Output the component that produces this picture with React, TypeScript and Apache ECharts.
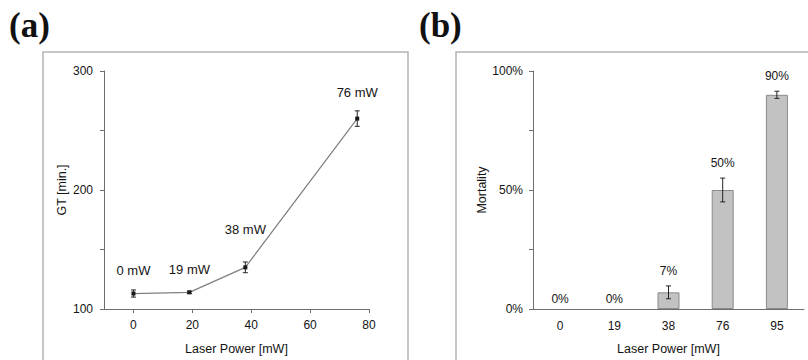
import React, { useEffect, useRef } from "react";
import * as echarts from "echarts";

// Panel (a): germination time vs laser power
const powerA = [0, 19, 38, 76];
const gtValues = [113, 114, 135, 260];
const gtErrors = [3, 1, 4.5, 6.5];
const gtLabels = ["0 mW", "19 mW", "38 mW", "76 mW"];
const xTicksA = [0, 20, 40, 60, 80];

// Panel (b): mortality vs laser power
const powerB = ["0", "19", "38", "76", "95"];
const mortality = [0, 0, 7, 50, 90];
const mortalityErr = [0, 0, 2.7, 5, 1.5];

const FONT = "Liberation Sans, Arial, sans-serif";
const TXT = "#141414";
const AX = "#6e6e6e";

export default function App() {
  const ref = useRef<HTMLDivElement>(null);
  useEffect(() => {
    if (!ref.current) return;
    const chart = echarts.init(ref.current, undefined, { renderer: "svg" });
    const labelLift = [15, 14, 29, 18];

    const errRender = (params: any, api: any) => {
      const x = api.value(0);
      const lo = api.value(1);
      const hi = api.value(2);
      const p1 = api.coord([x, lo]);
      const p2 = api.coord([x, hi]);
      const cap = 2.5;
      const st = { stroke: "#222", lineWidth: 1 };
      if (Math.abs(p1[1] - p2[1]) < 1) return { type: "group", children: [] };
      return {
        type: "group",
        children: [
          { type: "line", shape: { x1: p1[0], y1: p1[1], x2: p2[0], y2: p2[1] }, style: st },
          { type: "line", shape: { x1: p1[0] - cap, y1: p1[1], x2: p1[0] + cap, y2: p1[1] }, style: st },
          { type: "line", shape: { x1: p2[0] - cap, y1: p2[1], x2: p2[0] + cap, y2: p2[1] }, style: st },
        ],
      };
    };

    const errRenderB = (params: any, api: any) => {
      const x = api.value(0);
      const lo = api.value(1);
      const hi = api.value(2);
      const p1 = api.coord([x, lo]);
      const p2 = api.coord([x, hi]);
      const cap = 2.5;
      const st = { stroke: "#222", lineWidth: 1 };
      const children: any[] = [];
      const hasBar = Math.abs(p1[1] - p2[1]) >= 1;
      if (hasBar) {
        children.push(
          { type: "line", shape: { x1: p1[0], y1: p1[1], x2: p2[0], y2: p2[1] }, style: st },
          { type: "line", shape: { x1: p1[0] - cap, y1: p1[1], x2: p1[0] + cap, y2: p1[1] }, style: st },
          { type: "line", shape: { x1: p2[0] - cap, y1: p2[1], x2: p2[0] + cap, y2: p2[1] }, style: st }
        );
      }
      children.push({
        type: "text",
        x: p2[0],
        y: p2[1] - (hasBar ? 9 : 4),
        style: {
          text: mortality[params.dataIndex] + "%",
          fill: TXT,
          font: `12px ${FONT}`,
          textAlign: "center",
          textVerticalAlign: "bottom",
        },
      });
      return { type: "group", children };
    };

    const axisCommon = {
      axisLine: { lineStyle: { color: AX, width: 1 } },
      axisLabel: { color: TXT, fontSize: 12, fontFamily: FONT },
      nameTextStyle: { color: TXT, fontSize: 12.5, fontFamily: FONT },
      splitLine: { show: false },
    };

    chart.setOption({
      animation: false,
      backgroundColor: "#ffffff",
      grid: [
        { left: 104, top: 71, width: 265, height: 243 },
        { left: 533, top: 71, width: 271, height: 244 },
      ],
      xAxis: [
        {
          ...axisCommon,
          gridIndex: 0,
          type: "value",
          min: -10,
          max: 80,
          name: "Laser Power [mW]",
          nameLocation: "middle",
          nameGap: 33,
          axisLine: { show: true, onZero: false, lineStyle: { color: AX } },
          axisTick: { show: true, customValues: xTicksA, length: 4, lineStyle: { color: AX } },
          axisLabel: { ...axisCommon.axisLabel, customValues: xTicksA, margin: 10 },
        },
        {
          ...axisCommon,
          gridIndex: 1,
          type: "category",
          data: powerB,
          name: "Laser Power [mW]",
          nameLocation: "middle",
          nameGap: 33,
          axisLine: { show: true, onZero: false, lineStyle: { color: AX } },
          axisTick: { show: false },
          axisLabel: { ...axisCommon.axisLabel, margin: 11 },
        },
      ],
      yAxis: [
        {
          ...axisCommon,
          gridIndex: 0,
          type: "value",
          min: 100,
          max: 300,
          interval: 50,
          name: "GT [min.]",
          nameLocation: "middle",
          nameGap: 36,
          axisLine: { show: true, onZero: false, lineStyle: { color: AX } },
          axisTick: { show: true, length: 4, lineStyle: { color: AX } },
          axisLabel: {
            ...axisCommon.axisLabel,
            margin: 11,
            formatter: (v: number) => (v % 100 === 0 ? String(v) : ""),
          },
        },
        {
          ...axisCommon,
          gridIndex: 1,
          type: "value",
          min: 0,
          max: 100,
          interval: 25,
          name: "Mortality",
          nameLocation: "middle",
          nameGap: 45,
          axisLine: { show: true, onZero: false, lineStyle: { color: AX } },
          axisTick: { show: true, length: 4, lineStyle: { color: AX } },
          axisLabel: {
            ...axisCommon.axisLabel,
            margin: 10,
            formatter: (v: number) => (v % 50 === 0 ? v + "%" : ""),
          },
        },
      ],
      graphic: [
        {
          type: "rect",
          shape: { x: 43, y: 52, width: 365, height: 330 },
          style: { fill: "none", stroke: "#b4b4b4", lineWidth: 1.5 },
          z: -1,
        },
        {
          type: "rect",
          shape: { x: 456, y: 52, width: 370, height: 330 },
          style: { fill: "none", stroke: "#b4b4b4", lineWidth: 1.5 },
          z: -1,
        },
        {
          type: "text",
          x: 9,
          y: 8,
          style: { text: "(a)", font: "bold 35px 'Liberation Serif', 'Times New Roman', serif", fill: "#111" },
        },
        {
          type: "text",
          x: 419,
          y: 8,
          style: { text: "(b)", font: "bold 35px 'Liberation Serif', 'Times New Roman', serif", fill: "#111" },
        },
      ],
      series: [
        {
          type: "line",
          xAxisIndex: 0,
          yAxisIndex: 0,
          data: powerA.map((p, i) => ({
            value: [p, gtValues[i]],
            label: { distance: labelLift[i] },
          })),
          lineStyle: { color: "#7f7f7f", width: 1.2 },
          symbol: "rect",
          symbolSize: 4,
          itemStyle: { color: "#111" },
          label: {
            show: true,
            position: "top",
            color: TXT,
            fontSize: 13,
            fontFamily: FONT,
            formatter: (p: any) => gtLabels[p.dataIndex],
          },
          z: 3,
        },
        {
          type: "custom",
          xAxisIndex: 0,
          yAxisIndex: 0,
          renderItem: errRender,
          data: powerA.map((p, i) => [p, gtValues[i] - gtErrors[i], gtValues[i] + gtErrors[i]]),
          encode: { x: 0, y: [1, 2] },
          z: 4,
        },
        {
          type: "bar",
          xAxisIndex: 1,
          yAxisIndex: 1,
          data: mortality.map((v) => ({
            value: v,
            itemStyle: v === 0 ? { borderWidth: 0, opacity: 0 } : undefined,
          })),
          barWidth: 22,
          itemStyle: { color: "#c2c2c2", borderColor: "#8a8a8a", borderWidth: 1 },
          z: 2,
        },
        {
          type: "custom",
          xAxisIndex: 1,
          yAxisIndex: 1,
          renderItem: errRenderB,
          data: powerB.map((c, i) => [i, mortality[i] - mortalityErr[i], mortality[i] + mortalityErr[i]]),
          encode: { x: 0, y: [1, 2] },
          z: 4,
        },
      ],
    });
    return () => chart.dispose();
  }, []);

  return (
    <div
      ref={ref}
      style={{ position: "absolute", left: 0, top: 0, width: 808, height: 360, background: "#fff" }}
    />
  );
}
